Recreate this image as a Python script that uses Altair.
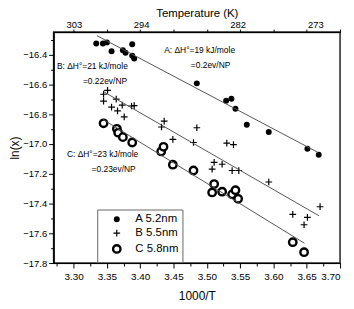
import altair as alt
import pandas as pd

FONT = "Liberation Sans"

# ---- data ----
series_names = ["A 5.2nm", "B 5.5nm", "C 5.8nm"]

A_x = [3.334, 3.344, 3.350, 3.357, 3.374, 3.378, 3.388, 3.388, 3.391, 3.485, 3.529,
       3.537, 3.543, 3.560, 3.593, 3.651, 3.668]
A_y = [-16.326, -16.326, -16.319, -16.379, -16.372, -16.389, -16.332, -16.409, -16.428,
       -16.594, -16.711, -16.698, -16.764, -16.872, -16.921, -17.033, -17.073]

B_x = [3.351, 3.345, 3.345, 3.364, 3.357, 3.366, 3.373, 3.387, 3.391, 3.376, 3.436,
       3.432, 3.449, 3.485, 3.480, 3.530, 3.540, 3.511, 3.523, 3.508, 3.538, 3.548,
       3.593, 3.629, 3.651, 3.646, 3.670]
B_y = [-16.641, -16.667, -16.713, -16.700, -16.753, -16.779, -16.740, -16.746, -16.743,
       -16.819, -16.848, -16.887, -16.970, -16.892, -16.991, -16.995, -17.005, -17.124,
       -17.137, -17.170, -17.179, -17.179, -17.256, -17.473, -17.493, -17.543, -17.422]

C_x = [3.345, 3.365, 3.367, 3.374, 3.388, 3.4315, 3.435, 3.449, 3.480, 3.511, 3.508,
       3.523, 3.538, 3.543, 3.547, 3.629, 3.646]
C_y = [-16.862, -16.899, -16.925, -16.955, -16.991, -17.051, -17.020, -17.140, -17.179,
       -17.270, -17.326, -17.321, -17.339, -17.311, -17.369, -17.660, -17.727]

# fitted lines (start / end)
fit_x0 = [3.335, 3.345, 3.344]
fit_y0 = [-16.274, -16.650, -16.836]
fit_x1 = [3.667, 3.6685, 3.6465]
fit_y1 = [-17.058, -17.483, -17.667]

# annotations
ann_text = ["A: \u0394H\u00b0=19 kJ/mole", "=0.2ev/NP",
            "B: \u0394H\u00b0=21 kJ/mole", "=0.22ev/NP",
            "C: \u0394H\u00b0=23 kJ/mole", "=0.23ev/NP"]
ann_x = [3.436, 3.476, 3.275, 3.314, 3.290, 3.327]
ann_y = [-16.367, -16.468, -16.475, -16.581, -17.069, -17.168]

# axis ticks
x_major = [3.30, 3.35, 3.40, 3.45, 3.50, 3.55, 3.60, 3.65, 3.70]
x_minor = [3.275, 3.325, 3.375, 3.425, 3.475, 3.525, 3.575, 3.625, 3.675]
y_major = [-17.8, -17.6, -17.4, -17.2, -17.0, -16.8, -16.6, -16.4]
y_minor = [-17.7, -17.5, -17.3, -17.1, -16.9, -16.7, -16.5, -16.3]
temps_K = [303, 294, 282, 273]

# ---- tables ----
pts = pd.DataFrame({
    "x": A_x + B_x + C_x,
    "y": A_y + B_y + C_y,
    "series": [series_names[0]] * len(A_x) + [series_names[1]] * len(B_x)
              + [series_names[2]] * len(C_x),
})
lines = pd.DataFrame({
    "x": fit_x0 + fit_x1,
    "y": fit_y0 + fit_y1,
    "series": series_names + series_names,
})
ann = pd.DataFrame({"x": ann_x, "y": ann_y, "text": ann_text})

xs = alt.Scale(domain=[3.27, 3.70], nice=False, zero=False)
ys = alt.Scale(domain=[-17.8, -16.25], nice=False, zero=False)

axis_common = dict(labelFont=FONT, titleFont=FONT,
                   titleFontWeight="normal", labelColor="black", titleColor="black",
                   domainColor="black", tickColor="black", grid=False)

plus_path = "M-1,0L1,0M0,-1L0,1"

points = alt.Chart(pts).mark_point(opacity=1, stroke="black").encode(
    x=alt.X("x:Q", scale=xs, axis=alt.Axis(orient="bottom", values=x_major, format=".2f",
                                            tickSize=5, labelPadding=4, labelFontSize=10,
                                            title="1000/T", titlePadding=9,
                                            titleFontSize=12, **axis_common)),
    y=alt.Y("y:Q", scale=ys, axis=alt.Axis(orient="left", values=y_major, format=".1f",
                                            tickSize=5, labelPadding=2, labelFontSize=9.5,
                                            title="ln(x)", titlePadding=1,
                                            titleFontSize=12, **axis_common)),
    shape=alt.Shape("series:N", scale=alt.Scale(domain=series_names,
                                                range=["circle", plus_path, "circle"]),
                    legend=alt.Legend(title=None, orient="none", legendX=44, legendY=179,
                                      labelFont=FONT, labelFontSize=11.5,
                                      labelColor="black", padding=4, symbolOffset=10,
                                      labelOffset=13, rowPadding=1, strokeColor="#666",
                                      fillColor="white")),
    fill=alt.Fill("series:N", scale=alt.Scale(domain=series_names,
                                              range=["black", "black", "white"]),
                  legend=alt.Legend(title=None)),
    strokeWidth=alt.StrokeWidth("series:N", scale=alt.Scale(domain=series_names,
                                                            range=[0, 2.4, 2.2]),
                                legend=alt.Legend(title=None)),
    size=alt.Size("series:N", scale=alt.Scale(domain=series_names, range=[36, 56, 30]),
                  legend=alt.Legend(title=None)),
)

fits = alt.Chart(lines).mark_line(color="#555", strokeWidth=1).encode(
    x=alt.X("x:Q", scale=xs, axis=alt.Axis(orient="top",
                                            values=[1000 / t for t in temps_K],
                                            labelExpr="format(1000/datum.value, '.0f')",
                                            tickSize=0, labelFontSize=9.5,
                                            title="Temperature (K)", titleFontSize=11.5,
                                            titlePadding=1, labelPadding=3,
                                            **axis_common)),
    y=alt.Y("y:Q", scale=ys, axis=None),
    detail="series:N",
)

texts = alt.Chart(ann).mark_text(align="left", baseline="middle", font=FONT,
                                 fontSize=8.5, color="black").encode(
    x=alt.X("x:Q", scale=xs, axis=alt.Axis(orient="top", values=x_major, labels=False,
                                            tickSize=3, title=None, **axis_common)),
    y=alt.Y("y:Q", scale=ys, axis=alt.Axis(orient="left", values=y_minor, labels=False,
                                            tickSize=3, title=None, **axis_common)),
    text="text:N",
)

minor = alt.Chart(ann).mark_point(opacity=0).encode(
    x=alt.X("x:Q", scale=xs, axis=alt.Axis(orient="bottom", values=x_minor, labels=False,
                                            tickSize=3, title=None, **axis_common)),
    y=alt.Y("y:Q", scale=ys, axis=None),
)

chart = alt.layer(points, fits, texts, minor).resolve_axis(
    x="independent", y="independent"
).properties(
    width=289, height=233, padding={"left": 0, "top": -2, "right": 5, "bottom": 0}
).configure_view(stroke="#222", strokeWidth=1.5)

chart.save("out.html", embed_options={"renderer": "svg", "actions": False})
